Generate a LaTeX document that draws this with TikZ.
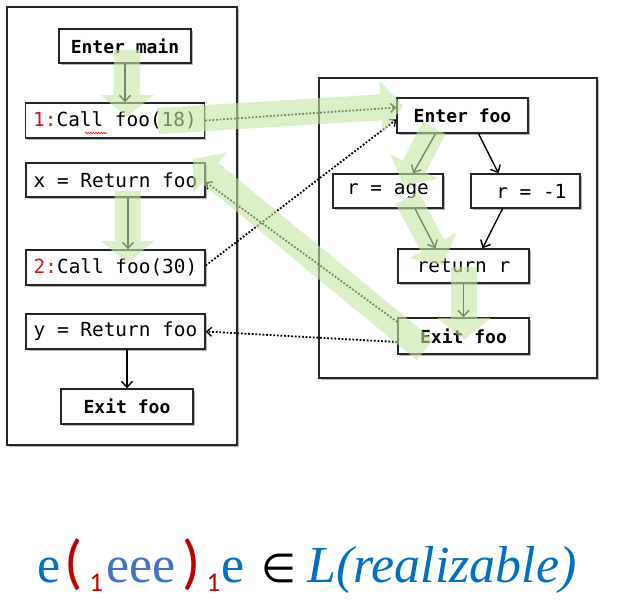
\documentclass[tikz,border=0pt]{standalone}
\usepackage{fontspec}
\usetikzlibrary{arrows.meta,shadows,decorations.pathmorphing}
\newfontfamily\codefont{DejaVu Sans Mono}
\newfontfamily\seriffont{Liberation Serif}
\newfontfamily\serifit{Liberation Serif Italic}
\newfontfamily\calfont{Carlito}
\newfontfamily\symfont{DejaVu Sans}
\definecolor{flowgreen}{RGB}{195,230,160}
\definecolor{numred}{RGB}{205,25,25}
\definecolor{eblue}{RGB}{0,112,192}
\definecolor{eblueb}{RGB}{68,114,196}
\definecolor{pred}{RGB}{192,0,0}
\begin{document}
\begin{tikzpicture}[x=1pt,y=1pt,
  shadowed/.style={drop shadow={shadow xshift=1.8pt,shadow yshift=-1.8pt,fill=black,opacity=0.28}},
  frame/.style={draw=black!85,line width=1.4pt,fill=white,shadowed,inner sep=0pt},
  stmt/.style={draw=black!85,line width=1.4pt,fill=white,shadowed,inner sep=0pt,
    minimum height=35pt,font=\codefont\fontsize{19.4}{22}\selectfont},
  bstmt/.style={stmt,font=\codefont\bfseries\fontsize{18}{22}\selectfont},
  cfg/.style={line width=1.4pt,-{Straight Barb[length=6pt,width=11pt]}},
  link/.style={line width=1.8pt,dash pattern=on 1.8pt off 1.8pt,-{Straight Barb[length=5pt,width=9pt,line width=1.3pt]}},
  flow/.style={line width=26pt,draw=flowgreen,-{Triangle[length=22pt,width=52pt]}},
  squig/.style={draw=red,line width=0.6pt,decorate,decoration={snake,amplitude=0.8pt,segment length=2.6pt}}
]
\useasboundingbox (0,0) rectangle (617,600);
% frames
\node[frame,minimum width=230pt,minimum height=438pt] (mainframe) at (122,374) {};
\node[frame,minimum width=278pt,minimum height=300pt] (fooframe) at (458,372) {};
% main procedure
\node[bstmt,minimum width=132pt,minimum height=34pt] (entermain) at (125,554) {Enter main};
\node[stmt,minimum width=179pt] (call1) at (115,479.5) {{\color{numred}1:}Call foo(18)};
\node[stmt,minimum width=179pt,minimum height=34pt] (xret) at (115.5,420) {x = Return foo};
\node[stmt,minimum width=179pt] (call2) at (115.5,332.5) {{\color{numred}2:}Call foo(30)};
\node[stmt,minimum width=179pt] (yret) at (115.5,268.5) {y = Return foo};
\node[bstmt,minimum width=132pt] (exitmain) at (127,193.5) {Exit foo};
% foo procedure
\node[bstmt,minimum width=131pt] (enterfoo) at (462.5,484.5) {Enter foo};
\node[stmt,minimum width=110pt,minimum height=34pt] (rage) at (388,409) {r = age};
\node[stmt,minimum width=109pt,minimum height=34pt] (rneg) at (525.5,409) {\ r = -1};
\node[stmt,minimum width=131pt,minimum height=34pt] (retr) at (463.5,334) {return r};
\node[bstmt,minimum width=131pt,minimum height=36pt] (exitfoo) at (463.5,264) {Exit foo};
% spelling squiggle
\coordinate (sqa) at ([xshift=-30pt,yshift=-12.5pt]call1.center);
\coordinate (sqb) at ([xshift=-8pt,yshift=-12.5pt]call1.center);
\draw[squig] (sqa) -- (sqb);
% intraprocedural edges
\draw[cfg] (entermain.south) -- (entermain.south |- call1.north);
\draw[cfg] ([xshift=12.5pt]xret.south) -- ([xshift=12.5pt]xret.south |- call2.north);
\draw[cfg] (exitmain.north |- yret.south) -- (exitmain.north);
\draw[cfg] ([xshift=-27pt]enterfoo.south) -- ([xshift=25pt]rage.north);
\draw[cfg] ([xshift=16pt]enterfoo.south) -- ([xshift=-27pt]rneg.north);
\draw[cfg] ([xshift=27pt]rage.south) -- ([xshift=-28pt]retr.north);
\draw[cfg] ([xshift=-23pt]rneg.south) -- ([xshift=19pt]retr.north);
\draw[cfg] (retr.south) -- (exitfoo.north);
% interprocedural edges
\draw[link] (call1.east) -- ([yshift=8pt]enterfoo.west);
\draw[link] ([yshift=2pt]call2.east) -- ([yshift=-4pt]enterfoo.west);
\draw[link] ([yshift=-6pt]exitfoo.west) -- (yret.east);
\draw[link] ([yshift=14pt]exitfoo.west) -- ([yshift=-2pt]xret.east);
% green realizable path
\coordinate (g1a) at (127,550); \coordinate (g1b) at (127,483);
\coordinate (g2a) at (158,479); \coordinate (g2b) at (403,494);
\coordinate (g3a) at (434,472); \coordinate (g3b) at (404,414);
\coordinate (g4a) at (407,402); \coordinate (g4b) at (443,335);
\coordinate (g5a) at (464,333); \coordinate (g5b) at (464,260);
\coordinate (g6a) at (425,250); \coordinate (g6b) at (193,441);
\coordinate (g7a) at (127.5,409); \coordinate (g7b) at (127.5,337);
\begin{scope}[transparency group,opacity=0.6]\draw[flow] (g1a) -- (g1b);\end{scope}
\begin{scope}[transparency group,opacity=0.6]\draw[flow] (g2a) -- (g2b);\end{scope}
\begin{scope}[transparency group,opacity=0.6]\draw[flow] (g3a) -- (g3b);\end{scope}
\begin{scope}[transparency group,opacity=0.6]\draw[flow] (g4a) -- (g4b);\end{scope}
\begin{scope}[transparency group,opacity=0.6]\draw[flow] (g5a) -- (g5b);\end{scope}
\begin{scope}[transparency group,opacity=0.6]\draw[flow] (g6a) -- (g6b);\end{scope}
\begin{scope}[transparency group,opacity=0.6]\draw[flow] (g7a) -- (g7b);\end{scope}
% formula
\node[anchor=base west,inner sep=0pt] (formula) at (37,18) {%
\seriffont\fontsize{52}{56}\selectfont
{\color{eblue}e}\hspace{4pt}%
{\calfont\fontsize{60}{62}\selectfont\color{pred}(\hspace{7pt}\raisebox{-9pt}{\fontsize{27}{28}\selectfont 1}}\hspace{3pt}%
{\color{eblueb}eee}\hspace{7pt}%
{\calfont\fontsize{60}{62}\selectfont\color{pred})\hspace{6pt}\raisebox{-9pt}{\fontsize{27}{28}\selectfont 1}}\hspace{1pt}%
{\color{eblue}e}\hspace{17pt}%
{\symfont\fontsize{40}{42}\selectfont\color{black}∈}\hspace{11pt}%
{\serifit\color{eblue}L(realizable)}};
\end{tikzpicture}
\end{document}
